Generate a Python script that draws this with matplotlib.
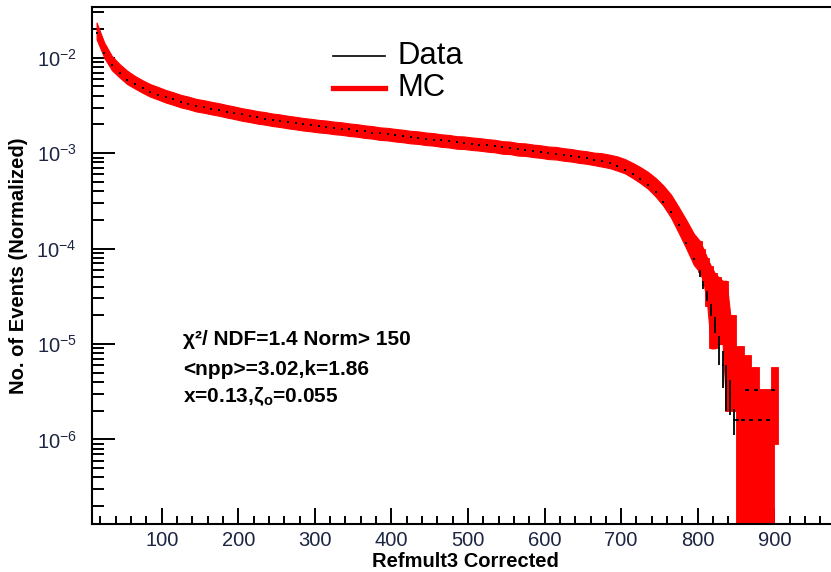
"""Refmult3 (corrected) distribution: data vs. Glauber MC fit, log scale."""

import matplotlib

matplotlib.use("Agg")
import matplotlib.pyplot as plt  # noqa: E402
import numpy as np  # noqa: E402
from matplotlib.lines import Line2D  # noqa: E402
from matplotlib.ticker import FuncFormatter, LogLocator, MultipleLocator, NullFormatter  # noqa: E402

plt.rcParams["font.family"] = ["Liberation Sans", "DejaVu Sans"]
plt.rcParams["mathtext.fontset"] = "custom"
plt.rcParams["mathtext.rm"] = "Liberation Sans"
plt.rcParams["mathtext.it"] = "Liberation Sans:italic"
plt.rcParams["mathtext.bf"] = "Liberation Sans:bold"
plt.rcParams["mathtext.default"] = "regular"

# ---- binning: 10-wide bins up to 800, 5-wide bins in the tail
MAIN_EDGES = np.arange(10, 801, 10)
TAIL_EDGES = np.arange(800, 906, 5)

# ---- MC (normalized), one value per bin
mc_main = [
    1.95e-2, 1.22e-2, 8.9e-3, 7.4e-3, 6.3e-3, 5.6e-3, 5.05e-3, 4.6e-3, 4.3e-3, 4.0e-3,
    3.78e-3, 3.55e-3, 3.40e-3, 3.22e-3, 3.12e-3, 3.00e-3, 2.90e-3, 2.78e-3, 2.68e-3, 2.57e-3,
    2.49e-3, 2.40e-3, 2.34e-3, 2.26e-3, 2.21e-3, 2.14e-3, 2.09e-3, 2.03e-3, 1.99e-3, 1.94e-3,
    1.91e-3, 1.86e-3, 1.83e-3, 1.78e-3, 1.75e-3, 1.70e-3, 1.67e-3, 1.62e-3, 1.60e-3, 1.56e-3,
    1.53e-3, 1.49e-3, 1.47e-3, 1.43e-3, 1.41e-3, 1.37e-3, 1.35e-3, 1.31e-3, 1.30e-3, 1.27e-3,
    1.25e-3, 1.22e-3, 1.20e-3, 1.16e-3, 1.15e-3, 1.11e-3, 1.10e-3, 1.07e-3, 1.05e-3, 1.02e-3,
    1.01e-3, 9.8e-4, 9.6e-4, 9.3e-4, 9.1e-4, 8.8e-4, 8.6e-4, 8.3e-4, 7.9e-4, 7.4e-4,
    6.7e-4, 6.0e-4, 5.3e-4, 4.5e-4, 3.7e-4, 2.9e-4, 2.1e-4, 1.5e-4, 1.05e-4,
]
# relative MC uncertainty per bin
mc_main_relerr = [
    0.20, 0.18, 0.17, 0.16, 0.16, 0.15, 0.15, 0.15, 0.15, 0.15,
    0.15, 0.15, 0.15, 0.15, 0.15, 0.15, 0.15, 0.15, 0.15, 0.15,
    0.15, 0.15, 0.15, 0.15, 0.15, 0.15, 0.15, 0.15, 0.15, 0.15,
    0.15, 0.15, 0.15, 0.15, 0.15, 0.15, 0.15, 0.15, 0.15, 0.15,
    0.15, 0.15, 0.15, 0.15, 0.15, 0.15, 0.15, 0.15, 0.15, 0.15,
    0.15, 0.15, 0.15, 0.15, 0.15, 0.15, 0.15, 0.15, 0.15, 0.15,
    0.15, 0.15, 0.15, 0.15, 0.15, 0.15, 0.16, 0.16, 0.17, 0.17,
    0.18, 0.19, 0.20, 0.22, 0.24, 0.27, 0.30, 0.33, 0.36,
]
mc_tail = [
    8.9e-5, 7.2e-5, 5.2e-5, 3.7e-5, 3.2e-5, 3.0e-5, 2.8e-5, 2.4e-5, 1.1e-5, 1.1e-5,
    4.6e-6, 4.6e-6, 3.7e-6, 3.7e-6, 2.8e-6, 2.8e-6, 1.6e-6, 1.6e-6, 1.6e-6, 2.8e-6, 3.35e-6,
]
mc_tail_err = [
    3.2e-5, 2.7e-5, 2.7e-5, 2.8e-5, 2.3e-5, 2.0e-5, 1.8e-5, 2.2e-5, 9.0e-6, 9.0e-6,
    5.0e-6, 5.0e-6, 4.0e-6, 4.0e-6, 3.0e-6, 3.0e-6, 1.8e-6, 1.8e-6, 1.8e-6, 3.0e-6, 2.45e-6,
]

# ---- data (normalized)
data_main = [
    1.80e-2, 1.12e-2, 8.3e-3, 6.9e-3, 5.9e-3, 5.3e-3, 4.8e-3, 4.4e-3, 4.1e-3, 3.85e-3,
    3.66e-3, 3.45e-3, 3.30e-3, 3.15e-3, 3.05e-3, 2.93e-3, 2.85e-3, 2.73e-3, 2.63e-3, 2.55e-3,
    2.45e-3, 2.38e-3, 2.30e-3, 2.24e-3, 2.17e-3, 2.12e-3, 2.05e-3, 2.01e-3, 1.95e-3, 1.92e-3,
    1.88e-3, 1.84e-3, 1.80e-3, 1.77e-3, 1.72e-3, 1.69e-3, 1.64e-3, 1.61e-3, 1.57e-3, 1.55e-3,
    1.50e-3, 1.48e-3, 1.44e-3, 1.42e-3, 1.38e-3, 1.36e-3, 1.33e-3, 1.30e-3, 1.27e-3, 1.26e-3,
    1.22e-3, 1.21e-3, 1.18e-3, 1.15e-3, 1.13e-3, 1.10e-3, 1.08e-3, 1.05e-3, 1.03e-3, 1.01e-3,
    9.9e-4, 9.6e-4, 9.4e-4, 9.1e-4, 8.8e-4, 8.5e-4, 8.2e-4, 7.8e-4, 7.3e-4, 6.7e-4,
    6.0e-4, 5.3e-4, 4.6e-4, 3.9e-4, 3.1e-4, 2.4e-4, 1.75e-4, 1.15e-4, 7.8e-5,
]
data_tail_x = [802.5, 807.5, 812.5, 817.5, 822.5, 827.5, 832.5, 837.5, 842.5, 847.5,
               851, 859, 869, 881, 892, 864, 876, 898]
data_tail_y = [5.5e-5, 4.2e-5, 3.2e-5, 2.3e-5, 1.6e-5, 9.0e-6, 6.0e-6, 4.0e-6, 3.0e-6, 1.6e-6,
               1.6e-6, 1.6e-6, 1.6e-6, 1.6e-6, 1.6e-6, 3.3e-6, 3.3e-6, 3.3e-6]
data_tail_yerr = [5e-6, 4e-6, 4e-6, 3.5e-6, 3e-6, 3e-6, 2.5e-6, 2e-6, 1.2e-6, 5e-7,
                  0, 0, 0, 0, 0, 0, 0, 0]
data_tail_xerr = [0, 0, 0, 0, 0, 0, 0, 0, 0, 0,
                  2.5, 2.5, 2.5, 2.5, 2.5, 2.5, 2.5, 2.5]

fit_lines = [
    "χ²/ NDF=1.4 Norm> 150",
    "<npp>=3.02,k=1.86",
    r"x=0.13,$\zeta_o$=0.055",
]

MC_RED = "#ff0000"
TICK_COLOR = "#1c2541"
Y_FLOOR = 1e-9  # stand-in for boxes whose lower edge drops to zero
N_BAND_TAIL = 10  # tail bins that still join the continuous band


def centers(edges):
    return 0.5 * (edges[:-1] + edges[1:])


fig = plt.figure(figsize=(8.31, 5.72), dpi=100)
ax = fig.add_axes([92 / 831, 48 / 572, 739 / 831, 517 / 572])

# ---- MC: continuous error band, then per-bin boxes through the sparse tail
mc_main_err = np.asarray(mc_main) * np.asarray(mc_main_relerr)
band_x = np.concatenate([centers(MAIN_EDGES), centers(TAIL_EDGES)[:N_BAND_TAIL]])
band_v = np.concatenate([mc_main, mc_tail[:N_BAND_TAIL]])
band_e = np.concatenate([mc_main_err, mc_tail_err[:N_BAND_TAIL]])
ax.fill_between(band_x, np.clip(band_v - band_e, Y_FLOOR, None), band_v + band_e,
                color=MC_RED, linewidth=0.8, edgecolor=MC_RED, zorder=2)

tail_v = np.asarray(mc_tail)
tail_e = np.asarray(mc_tail_err)
tail_lo = np.clip(tail_v - tail_e, Y_FLOOR, None)
ax.bar(TAIL_EDGES[:-1], tail_v + tail_e - tail_lo, bottom=tail_lo, width=np.diff(TAIL_EDGES),
       align="edge", color=MC_RED, edgecolor=MC_RED, linewidth=0.6, zorder=2)

# ---- data points
ax.plot(centers(MAIN_EDGES), data_main, "s", ms=1.8, color="black", mew=0, zorder=4)
ax.errorbar(data_tail_x, data_tail_y, yerr=data_tail_yerr, xerr=data_tail_xerr,
            fmt="s", ms=1.8, mew=0, color="black", elinewidth=1.3, capsize=0, zorder=4)

ax.set_yscale("log")
ax.set_xlim(9, 974)
ax.set_ylim(1.3e-7, 3.4e-2)

# ---- ROOT-like frame: inward ticks, no right edge in view
for side in ("left", "bottom", "top"):
    ax.spines[side].set_linewidth(1.5)
ax.spines["right"].set_visible(False)

ax.xaxis.set_major_locator(MultipleLocator(100))
ax.xaxis.set_minor_locator(MultipleLocator(20))
ax.yaxis.set_major_locator(LogLocator(base=10, numticks=12))
ax.yaxis.set_minor_locator(LogLocator(base=10, subs=np.arange(2, 10), numticks=12))
ax.yaxis.set_minor_formatter(NullFormatter())
ax.yaxis.set_major_formatter(FuncFormatter(lambda v, _: f"10$^{{{int(round(np.log10(v)))}}}$"))

ax.tick_params(axis="x", which="major", direction="in", length=11.5, width=1.4,
               labelsize=14.5, pad=5, colors=TICK_COLOR)
ax.tick_params(axis="x", which="minor", direction="in", length=5.8, width=1.4)
ax.tick_params(axis="y", which="major", direction="in", length=16.5, width=1.4,
               labelsize=14.5, pad=11, colors=TICK_COLOR)
ax.tick_params(axis="y", which="minor", direction="in", length=8.6, width=1.4)
ax.tick_params(which="both", top=False, right=False, color="black")

ax.set_xlabel("Refmult3 Corrected", fontsize=14.5, fontweight="bold", labelpad=2)
ax.set_ylabel("No. of Events (Normalized)", fontsize=14.5, fontweight="bold", labelpad=6)
ax.xaxis.set_label_coords(0.505, -0.055)

# ---- legend, borderless like a TLegend
legend_rows = [("Data", "black", 1.2, 0.905), ("MC", MC_RED, 3.8, 0.843)]
for label, color, lw, y in legend_rows:
    ax.add_line(Line2D([0.326, 0.396], [y, y], transform=ax.transAxes,
                       color=color, lw=lw, clip_on=False, zorder=5))
    ax.text(0.414, y, label, transform=ax.transAxes, fontsize=22.3,
            va="center", ha="left", color="black")

# ---- fit summary
for text, y in zip(fit_lines, (0.346, 0.288, 0.236)):
    ax.text(0.123, y, text, transform=ax.transAxes, fontsize=15, fontweight="bold",
            va="baseline", ha="left", color="black")

fig.savefig("out.png", dpi=100, facecolor="white")
